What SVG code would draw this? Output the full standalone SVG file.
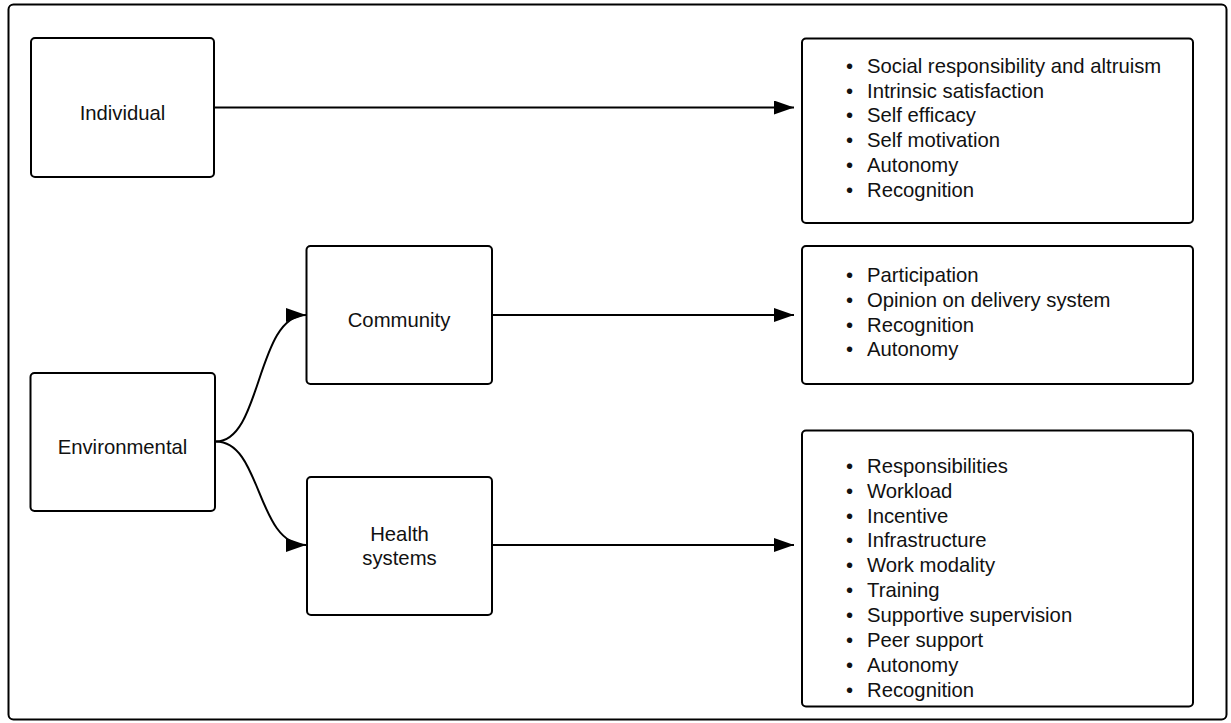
<svg xmlns="http://www.w3.org/2000/svg" width="1231" height="723" viewBox="0 0 1231 723">
  <defs>
    <marker id="arrow" viewBox="0 0 20 14" refX="20" refY="7" markerWidth="20" markerHeight="14" markerUnits="userSpaceOnUse" orient="auto">
      <path d="M0,0 L20,7 L0,14 Z" fill="#000"/>
    </marker>
    <style>
      .box { fill: #fff; stroke: #000; stroke-width: 2; }
      .frame { fill: #fff; stroke: #000; stroke-width: 2; }
      .label { font-family: "Liberation Sans", Arial, sans-serif; font-size: 20.3px; fill: #111; }
      .mid { text-anchor: middle; }
      .edge { fill: none; stroke: #000; stroke-width: 2; marker-end: url(#arrow); }
    </style>
  </defs>

  <rect class="frame" x="8.5" y="4.5" width="1218" height="715" rx="5"/>

  <g id="connectors">
    <path class="edge" d="M214,107.5 L794,107.5"/>
    <path class="edge" d="M492,315 L794,315"/>
    <path class="edge" d="M492,545 L794,545"/>
    <path class="edge" d="M216,441.5 C262,441.5 256,315 306,315"/>
    <path class="edge" d="M216,441.5 C262,441.5 256,545 306,545"/>
  </g>

  <g id="individual">
    <rect class="box" x="31" y="38" width="183" height="139" rx="4"/>
    <text class="label mid" x="122.5" y="120">Individual</text>
  </g>

  <g id="environmental">
    <rect class="box" x="30.5" y="373" width="184.5" height="138" rx="4"/>
    <text class="label mid" x="122.5" y="454">Environmental</text>
  </g>

  <g id="community">
    <rect class="box" x="306.5" y="246" width="185.5" height="138" rx="4"/>
    <text class="label mid" x="399" y="327">Community</text>
  </g>

  <g id="health-systems">
    <rect class="box" x="307" y="477" width="185" height="138" rx="4"/>
    <text class="label mid" x="399.5" y="541">Health</text>
    <text class="label mid" x="399.5" y="565">systems</text>
  </g>

  <g id="individual-factors">
    <rect class="box" x="802" y="38.5" width="391" height="184.5" rx="4"/>
    <text class="label" x="846" y="72.7">•</text><text class="label" x="867" y="72.7">Social responsibility and altruism</text>
    <text class="label" x="846" y="97.5">•</text><text class="label" x="867" y="97.5">Intrinsic satisfaction</text>
    <text class="label" x="846" y="122.3">•</text><text class="label" x="867" y="122.3">Self efficacy</text>
    <text class="label" x="846" y="147.1">•</text><text class="label" x="867" y="147.1">Self motivation</text>
    <text class="label" x="846" y="171.9">•</text><text class="label" x="867" y="171.9">Autonomy</text>
    <text class="label" x="846" y="196.7">•</text><text class="label" x="867" y="196.7">Recognition</text>
  </g>

  <g id="community-factors">
    <rect class="box" x="802" y="246" width="391" height="138" rx="4"/>
    <text class="label" x="846" y="282">•</text><text class="label" x="867" y="282">Participation</text>
    <text class="label" x="846" y="306.8">•</text><text class="label" x="867" y="306.8">Opinion on delivery system</text>
    <text class="label" x="846" y="331.6">•</text><text class="label" x="867" y="331.6">Recognition</text>
    <text class="label" x="846" y="356.4">•</text><text class="label" x="867" y="356.4">Autonomy</text>
  </g>

  <g id="health-systems-factors">
    <rect class="box" x="802" y="430.5" width="391" height="276" rx="4"/>
    <text class="label" x="846" y="472.7">•</text><text class="label" x="867" y="472.7">Responsibilities</text>
    <text class="label" x="846" y="497.6">•</text><text class="label" x="867" y="497.6">Workload</text>
    <text class="label" x="846" y="522.5">•</text><text class="label" x="867" y="522.5">Incentive</text>
    <text class="label" x="846" y="547.4">•</text><text class="label" x="867" y="547.4">Infrastructure</text>
    <text class="label" x="846" y="572.3">•</text><text class="label" x="867" y="572.3">Work modality</text>
    <text class="label" x="846" y="597.2">•</text><text class="label" x="867" y="597.2">Training</text>
    <text class="label" x="846" y="622.1">•</text><text class="label" x="867" y="622.1">Supportive supervision</text>
    <text class="label" x="846" y="647">•</text><text class="label" x="867" y="647">Peer support</text>
    <text class="label" x="846" y="671.9">•</text><text class="label" x="867" y="671.9">Autonomy</text>
    <text class="label" x="846" y="696.8">•</text><text class="label" x="867" y="696.8">Recognition</text>
  </g>
</svg>
